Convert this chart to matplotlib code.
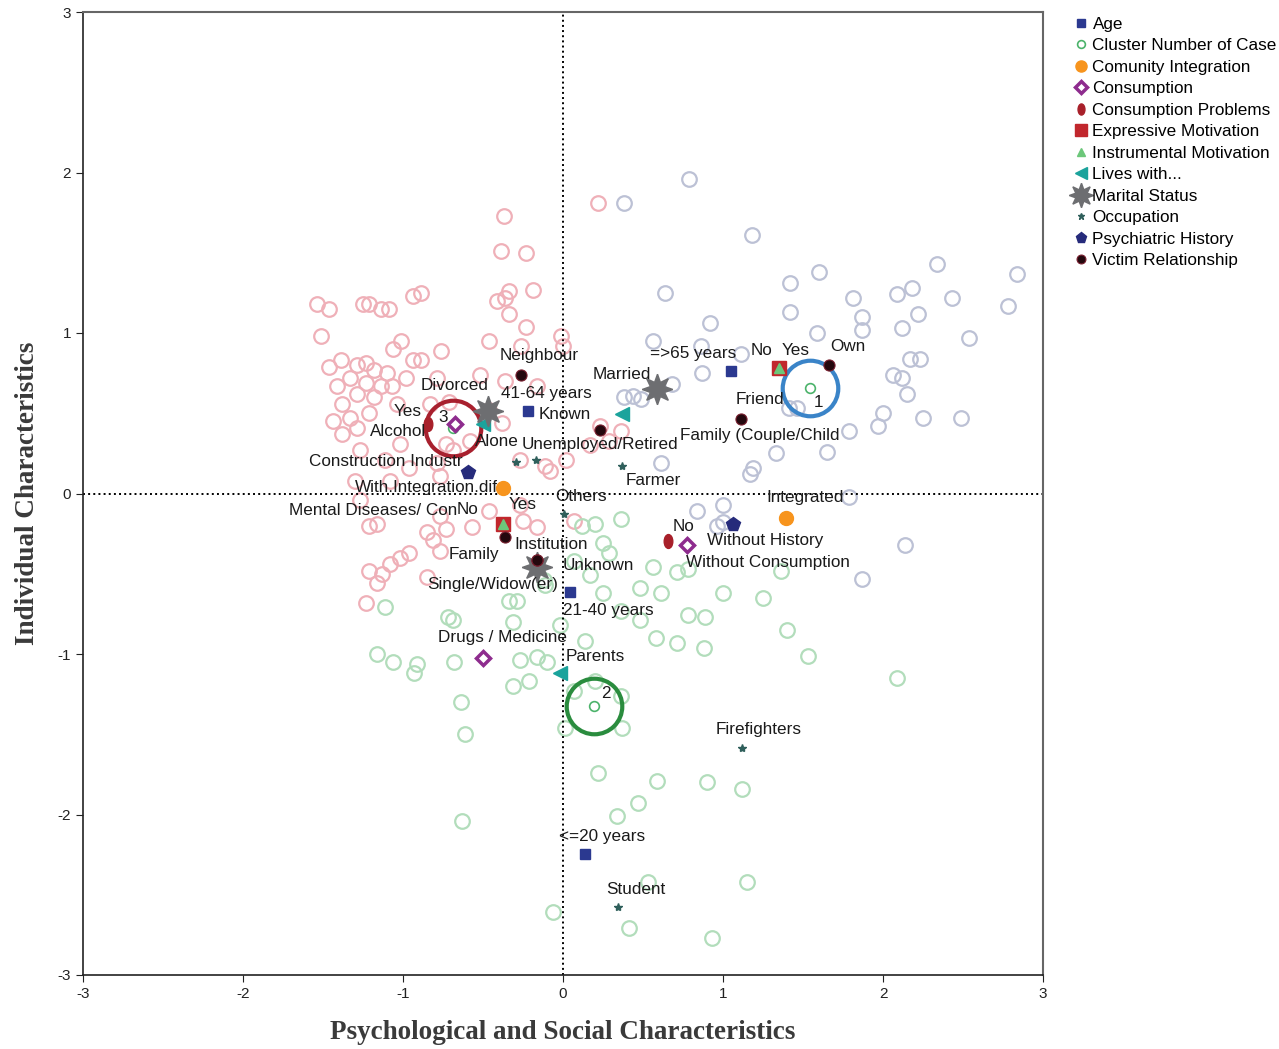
import numpy as np
import matplotlib
matplotlib.use("Agg")
import matplotlib.pyplot as plt
from matplotlib.path import Path

plt.rcParams['font.family'] = ['Liberation Sans', 'DejaVu Sans']
plt.rcParams['axes.unicode_minus'] = False

# -------------------------------
# Case points (coloured by cluster)
# -------------------------------
case3_x = [-0.37, 0.22, -0.39, -0.23, -1.54, -1.46, -1.25, -1.21, -1.14, -1.09, -0.94, -0.89,
           -0.36, -0.34, -0.19, -0.41, -0.34, -0.23, -1.51, -1.01, -0.46, -0.01, -1.06, -0.76,
           -0.94, -0.89, -1.39, -1.46, -1.29, -1.23, -1.18, -1.10, -1.33, -1.41, -1.23, -1.14,
           -1.07, -0.98, -0.79, -1.29, -1.18, -1.38, -1.04, -0.83, -0.71, -0.46, -0.38, -1.33,
           -1.44, -1.21, -1.29, -1.38, -0.73, -0.69, -1.27, -1.02, -0.58, -1.11, -0.96, -0.79,
           -1.08, -1.30, -0.27, -0.11, 0.02, 0.17, 0.29, 0.23, 0.36, -0.16, -0.36, -0.52,
           -0.26, -0.77, -1.27, -0.77, -0.46, -0.27, -0.08, -1.21, -1.16, -0.85, -0.81, -0.73,
           -0.57, -0.25, -0.16, -0.77, -1.02, -0.96, -1.08, -1.13, -1.21, -1.16, -0.85, -1.23,
           0.07, 0.00]
case3_y = [1.73, 1.81, 1.51, 1.50, 1.18, 1.15, 1.18, 1.18, 1.15, 1.15, 1.23, 1.25,
           1.22, 1.26, 1.27, 1.20, 1.12, 1.04, 0.98, 0.95, 0.95, 0.98, 0.90, 0.89,
           0.83, 0.83, 0.83, 0.79, 0.80, 0.81, 0.77, 0.75, 0.72, 0.67, 0.69, 0.67,
           0.67, 0.72, 0.72, 0.62, 0.60, 0.56, 0.56, 0.56, 0.57, 0.52, 0.44, 0.47,
           0.45, 0.50, 0.41, 0.37, 0.31, 0.27, 0.27, 0.31, 0.33, 0.21, 0.16, 0.19,
           0.08, 0.08, 0.21, 0.17, 0.21, 0.30, 0.33, 0.42, 0.39, 0.67, 0.70, 0.74,
           0.92, 0.11, -0.04, -0.14, -0.11, -0.07, 0.14, -0.20, -0.19, -0.24, -0.29, -0.22,
           -0.21, -0.17, -0.21, -0.36, -0.40, -0.37, -0.44, -0.50, -0.48, -0.56, -0.52, -0.68,
           -0.17, 0.92]

case2_x = [0.12, 0.20, 0.25, 0.29, 0.56, 0.71, 0.78, 0.48, 0.61, 1.00, 1.25, 0.78,
           0.89, 0.58, 0.71, 0.88, 1.40, 1.53, 2.09, 1.36, -1.11, -0.69, -0.31, -0.34,
           -1.16, -1.06, -0.91, -0.93, -0.68, -0.27, -0.16, -0.10, -0.31, -0.21, -0.64, -0.61,
           0.01, 0.37, 0.22, 0.59, 0.90, 1.12, 0.47, 0.34, -0.63, 0.53, 1.15, -0.06,
           0.41, 0.93, -0.11, -0.02, 0.14, 0.25, 0.36, 0.48, 0.07, 0.17, -0.72, -0.29,
           -0.12, 0.20, 0.36, 0.07, 0.36]
case2_y = [-0.20, -0.19, -0.31, -0.37, -0.46, -0.49, -0.47, -0.59, -0.62, -0.62, -0.65, -0.76,
           -0.77, -0.90, -0.93, -0.96, -0.85, -1.01, -1.15, -0.48, -0.71, -0.79, -0.80, -0.67,
           -1.00, -1.05, -1.06, -1.12, -1.05, -1.04, -1.02, -1.05, -1.20, -1.17, -1.30, -1.50,
           -1.46, -1.46, -1.74, -1.79, -1.80, -1.84, -1.93, -2.01, -2.04, -2.42, -2.42, -2.61,
           -2.71, -2.77, -0.57, -0.82, -0.92, -0.62, -0.73, -0.79, -0.42, -0.51, -0.77, -0.67,
           -0.54, -1.17, -1.26, -1.23, -0.16]

case1_x = [0.79, 0.38, 1.18, 0.64, 0.92, 1.42, 1.60, 1.42, 1.81, 1.87, 1.87, 2.09,
           2.18, 2.34, 2.43, 2.22, 2.12, 2.54, 2.78, 2.84, 2.17, 2.23, 2.06, 2.12,
           2.15, 2.00, 1.97, 2.25, 2.49, 1.79, 1.65, 1.33, 1.59, 0.56, 0.86, 1.11,
           0.87, 0.68, 0.49, 0.44, 0.38, 1.46, 1.41, 0.61, 1.17, 1.19, 0.84, 1.00,
           1.00, 2.14, 1.87, 1.79, 0.96]
case1_y = [1.96, 1.81, 1.61, 1.25, 1.06, 1.31, 1.38, 1.13, 1.22, 1.10, 1.02, 1.24,
           1.28, 1.43, 1.22, 1.12, 1.03, 0.97, 1.17, 1.37, 0.84, 0.84, 0.74, 0.72,
           0.62, 0.50, 0.42, 0.47, 0.47, 0.39, 0.26, 0.25, 1.00, 0.95, 0.92, 0.87,
           0.75, 0.68, 0.59, 0.61, 0.60, 0.53, 0.53, 0.19, 0.12, 0.16, -0.11, -0.07,
           -0.18, -0.32, -0.53, -0.02, -0.20]

# -------------------------------
# Category points
# -------------------------------
cluster_x = [1.544, 0.194, -0.6875]
cluster_y = [0.660, -1.327, 0.405]
cluster_lab = ["1", "2", "3"]

age_x = [1.05, -0.219, 0.044, 0.1375]
age_y = [0.766, 0.511, -0.611, -2.249]
age_lab = ["=>65 years", "41-64 years", "21-40 years", "<=20 years"]

integ_x = [-0.375, 1.394]
integ_y = [0.037, -0.15]
integ_lab = ["With.Integration.dif", "Integrated"]

cons_x = [-0.675, 0.775, -0.50]
cons_y = [0.436, -0.318, -1.022]
cons_lab = ["Alcohol", "Without Consumption", "Drugs / Medicine"]

consprob_x = [-0.844, 0.656]
consprob_y = [0.43, -0.299]
consprob_lab = ["Yes", "No"]

expr_x = [1.35, -0.375]
expr_y = [0.785, -0.187]
expr_lab = ["Yes", "No"]

instr_x = [1.35, -0.375]
instr_y = [0.785, -0.187]
instr_lab = ["No", "Yes"]

lives_x = [-0.50, 0.369, -0.019]
lives_y = [0.43, 0.498, -1.121]
lives_lab = ["Alone", "Family (Couple/Child", "Parents"]

marital_x = [-0.469, 0.5875, -0.1625]
marital_y = [0.517, 0.648, -0.461]
marital_lab = ["Divorced", "Married", "Single/Widow(er)"]

occ_x = [-0.294, -0.169, 0.369, 0.006, 1.119, 0.344]
occ_y = [0.199, 0.206, 0.174, -0.125, -1.583, -2.579]
occ_lab = ["Construction Industr", "Unemployed/Retired", "Farmer", "Others", "Firefighters", "Student"]

psych_x = [-0.594, 1.0625]
psych_y = [0.131, -0.193]
psych_lab = ["Mental Diseases/ Con", "Without History"]

victim_x = [-0.2625, 0.231, 1.1125, 1.6625, -0.3625, -0.1625, -0.1625]
victim_y = [0.741, 0.393, 0.467, 0.798, -0.274, -0.417, -0.417]
victim_lab = ["Neighbour", "Known", "Friend", "Own", "Family", "Institution", "Unknown"]

# label offsets in pixels (layout)
offsets = {
    "cluster": [(8, -15), (12, 13), (-10, 11)],
    "age": [(-38, 17), (18, 18), (38, -19), (17, 18)],
    "integ": [(-77, 0), (19, 20)],
    "cons": [(-57, -8), (81, -18), (19, 20)],
    "consprob": [(-20, 13), (16, 15)],
    "expr": [(17, 17), (-35, 14)],
    "instr": [(-18, 17), (20, 19)],
    "lives": [(14, -17), (138, -22), (35, 17)],
    "marital": [(-33, 25), (-35, 15), (-44, -17)],
    "occ": [(-130, 0), (64, 16), (31, -15), (17, 17), (17, 18), (18, 18)],
    "psych": [(-95, -38), (32, -16)],
    "victim": [(18, 19), (-35, 16), (19, 19), (19, 19), (-31, -17), (14, 16), (61, -5)],
}

# ellipse marker for consumption problems
_c = Path.unit_circle()
ellipse = Path(_c.vertices * np.array([0.62, 1.0]), _c.codes)

FS = 12.3

fig = plt.figure(figsize=(12.79, 10.49), dpi=100)
ax = fig.add_axes([83 / 1279, 74 / 1049, 960 / 1279, 963 / 1049])

bg = dict(marker='o', linestyle='none', markersize=10.5, markerfacecolor='none', markeredgewidth=1.6)
ax.plot(case3_x, case3_y, markeredgecolor='#efb0b8', **bg)
ax.plot(case2_x, case2_y, markeredgecolor='#b2ddbb', **bg)
ax.plot(case1_x, case1_y, markeredgecolor='#bcc1d5', **bg)

ax.axhline(0, color='black', linestyle=':', linewidth=1.4, zorder=2)
ax.axvline(0, color='black', linestyle=':', linewidth=1.4, zorder=2)

# big circles around cluster centres
ring_cols = ['#3a84c8', '#2a8c3e', '#a8202e']
for cx, cy, rc in zip(cluster_x, cluster_y, ring_cols):
    ax.plot([cx], [cy], marker='o', markersize=40, markerfacecolor='none',
            markeredgecolor=rc, markeredgewidth=3, linestyle='none', zorder=3)

handles = []
def cat(xs, ys, labs, key, name, **kw):
    h, = ax.plot(xs, ys, linestyle='none', label=name, zorder=4, **kw)
    handles.append(h)
    for x, y, t, (dx, dy) in zip(xs, ys, labs, offsets[key]):
        ax.annotate(t, (x, y), xytext=(dx, dy), textcoords='offset pixels',
                    ha='center', va='center', fontsize=FS, color='#1a1a1a', zorder=6)

cat(age_x, age_y, age_lab, "age", "Age", marker='s', markersize=7, color='#2b3990')
cat(cluster_x, cluster_y, cluster_lab, "cluster", "Cluster Number of Case", marker='o',
    markersize=7, markerfacecolor='white', markeredgecolor='#4cb36b', markeredgewidth=1.2)
cat(integ_x, integ_y, integ_lab, "integ", "Comunity Integration", marker='o',
    markersize=10, color='#f7941d')
cat(cons_x, cons_y, cons_lab, "cons", "Consumption", marker='D', markersize=7.5,
    markerfacecolor='white', markeredgecolor='#8e2c8e', markeredgewidth=2.5)
cat(consprob_x, consprob_y, consprob_lab, "consprob", "Consumption Problems", marker=ellipse,
    markersize=10, color='#a8202a')
cat(expr_x, expr_y, expr_lab, "expr", "Expressive Motivation", marker='s', markersize=10,
    color='#c1272d')
cat(instr_x, instr_y, instr_lab, "instr", "Instrumental Motivation", marker='^', markersize=7,
    color='#6cc77a')
cat(lives_x, lives_y, lives_lab, "lives", "Lives with...", marker='<', markersize=10,
    color='#1ba39c')
cat(marital_x, marital_y, marital_lab, "marital", "Marital Status", marker=(8, 1, 0),
    markersize=22, color='#6d6e71')
cat(occ_x, occ_y, occ_lab, "occ", "Occupation", marker='*', markersize=6, color='#2f5f5b')
cat(psych_x, psych_y, psych_lab, "psych", "Psychiatric History", marker='p', markersize=10,
    color='#262b7b')
cat(victim_x, victim_y, victim_lab, "victim", "Victim Relationship", marker='o', markersize=8,
    markerfacecolor='#24080e', markeredgecolor='#7a2030', markeredgewidth=0.8)

ax.set_xlim(-3, 3)
ax.set_ylim(-3, 3)
ax.set_xticks(np.arange(-3, 4))
ax.set_yticks(np.arange(-3, 4))
ax.tick_params(direction='out', length=5, labelsize=11, colors='#222222')
for s in ['top', 'right']:
    ax.spines[s].set_color('#666666')
    ax.spines[s].set_linewidth(1.5)
for s in ['left', 'bottom']:
    ax.spines[s].set_color('#222222')
    ax.spines[s].set_linewidth(1.2)

serif = ['Liberation Serif', 'DejaVu Serif']
ax.set_xlabel("Psychological and Social Characteristics", fontsize=19.5, family=serif,
              weight='bold', color='#3a3a3a')
ax.set_ylabel("Individual Characteristics", fontsize=19.5, family=serif,
              weight='bold', color='#3a3a3a')
ax.xaxis.set_label_coords(0.5, -0.047)
ax.yaxis.set_label_coords(-0.045, 0.5)

fig.legend(handles=handles, loc='upper left', bbox_to_anchor=(1066 / 1279, 1 - 10 / 1049),
           frameon=False, fontsize=FS, labelspacing=0.38, handletextpad=0.25,
           handlelength=0.9, borderaxespad=0, markerscale=0.8)

fig.savefig("out.png", dpi=100)
